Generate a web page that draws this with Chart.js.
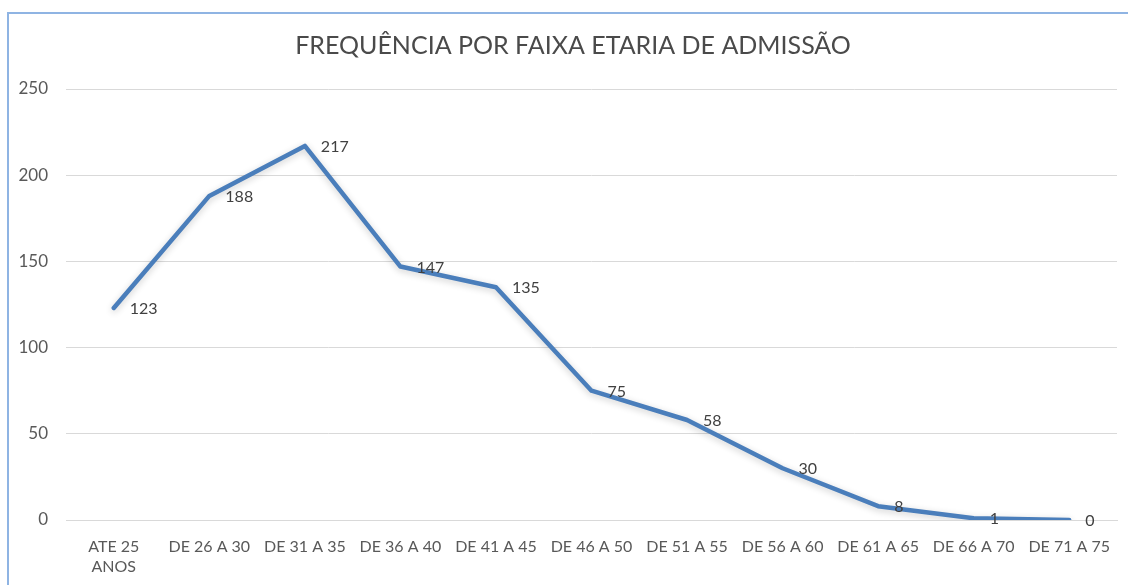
<!DOCTYPE html>
<html>
<head>
<meta charset="utf-8">
<script src="https://cdn.jsdelivr.net/npm/chart.js@4"></script>
<style>
    html, body { margin: 0; padding: 0; background: #fff; }
    #wrap { position: relative; width: 1128px; height: 585px; overflow: hidden; }
    #frame { position: absolute; left: 7px; top: 12px; width: 1200px; height: 700px;
             border-left: 2px solid #8fb4e3; border-top: 2px solid #8fb4e3; }
    canvas { position: absolute; left: 0; top: 0; }
</style>
</head>
<body>
<div id="wrap">
    <div id="frame"></div>
    <canvas id="chart" width="1128" height="585"></canvas>
</div>
<script>
// dados do grafico
const titulo = 'FREQUÊNCIA POR FAIXA ETARIA DE ADMISSÃO';
const faixas = [['ATE 25', 'ANOS'], 'DE 26 A 30', 'DE 31 A 35', 'DE 36 A 40', 'DE 41 A 45',
    'DE 46 A 50', 'DE 51 A 55', 'DE 56 A 60', 'DE 61 A 65', 'DE 66 A 70', 'DE 71 A 75'];
const frequencias = [123, 188, 217, 147, 135, 75, 58, 30, 8, 1, 0];
const eixoY = [0, 50, 100, 150, 200, 250];

const fonte = 'Lato, "Liberation Sans", sans-serif';
const corTexto = '#595959';

// titulo desenhado a mao (centro um pouco a direita do centro do canvas)
const tituloPlugin = {
    id: 'tituloPlugin',
    afterDraw(chart) {
        const ctx = chart.ctx;
        ctx.save();
        ctx.font = '25px ' + fonte;
        ctx.fillStyle = '#4a4a4a';
        ctx.textAlign = 'center';
        ctx.textBaseline = 'middle';
        ctx.fillText(titulo, 573, 46);
        ctx.restore();
    }
};

// rotulos de dados a direita de cada ponto
const rotulos = {
    id: 'rotulos',
    afterDatasetsDraw(chart) {
        const ctx = chart.ctx;
        const meta = chart.getDatasetMeta(0);
        ctx.save();
        ctx.font = '16px ' + fonte;
        ctx.fillStyle = '#404040';
        ctx.textAlign = 'left';
        ctx.textBaseline = 'middle';
        meta.data.forEach((pt, i) => {
            ctx.fillText(String(frequencias[i]), pt.x + 16, pt.y + 1);
        });
        ctx.restore();
    }
};

// sombra suave da linha
const sombra = {
    id: 'sombra',
    beforeDatasetDraw(chart) {
        const ctx = chart.ctx;
        ctx.save();
        ctx.shadowColor = 'rgba(0,0,0,0.2)';
        ctx.shadowBlur = 7;
        ctx.shadowOffsetY = 2;
    },
    afterDatasetDraw(chart) {
        chart.ctx.restore();
    }
};

new Chart(document.getElementById('chart'), {
    type: 'line',
    data: {
        labels: faixas,
        datasets: [{
            data: frequencias,
            borderColor: '#4a7ebb',
            borderWidth: 4.5,
            pointRadius: 0,
            pointHoverRadius: 0,
            tension: 0,
            borderCapStyle: 'round',
            borderJoinStyle: 'round',
            fill: false
        }]
    },
    options: {
        responsive: false,
        animation: false,
        layout: { padding: { left: 0, right: 11, top: 89, bottom: 0 } },
        plugins: {
            legend: { display: false },
            tooltip: { enabled: false },
            title: { display: false }
        },
        scales: {
            x: {
                offset: true,
                grid: { display: false, drawTicks: false },
                border: { display: true, color: '#d9d9d9', width: 1 },
                ticks: {
                    color: corTexto,
                    font: { family: fonte, size: 16, lineHeight: 1.3 },
                    padding: 16,
                    maxRotation: 0,
                    autoSkip: false
                },
                afterFit(scale) { scale.height = 65; }
            },
            y: {
                min: 0,
                max: 250,
                afterBuildTicks(scale) { scale.ticks = eixoY.map(v => ({ value: v })); },
                grid: { color: '#d9d9d9', lineWidth: 1, drawTicks: false },
                border: { display: false },
                ticks: {
                    color: corTexto,
                    font: { family: fonte, size: 17 },
                    padding: 18
                },
                afterFit(scale) { scale.width = 66; }
            }
        }
    },
    plugins: [sombra, rotulos, tituloPlugin]
});
</script>
</body>
</html>
